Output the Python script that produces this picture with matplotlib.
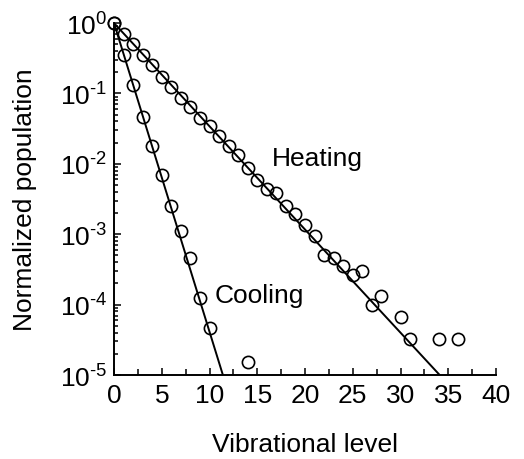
import math
import matplotlib
matplotlib.use("Agg")
import matplotlib.pyplot as plt
from matplotlib.ticker import FixedLocator, FuncFormatter, LogLocator, NullFormatter

plt.rcParams['font.family'] = ['Liberation Sans', 'DejaVu Sans']
plt.rcParams['mathtext.fontset'] = 'custom'
plt.rcParams['mathtext.rm'] = 'Liberation Sans'

# data
heating_level = [0, 1, 2, 3, 4, 5, 6, 7, 8, 9, 10, 11, 12, 13, 14, 15, 16, 17, 18,
                 19, 20, 21, 22, 23, 24, 25, 26, 27, 28, 30, 31, 34, 36]
heating_pop = [1.0, 0.71, 0.50, 0.355, 0.25, 0.174, 0.123, 0.087, 0.065, 0.045,
               0.034, 0.0245, 0.018, 0.0132, 0.0088, 0.0059, 0.0044, 0.0038,
               0.0025, 0.00195, 0.00135, 0.00093, 0.0005, 0.00046, 0.00035,
               0.00026, 0.0003, 0.0001, 0.000132, 0.000066, 0.000032,
               0.000032, 0.000032]
cooling_level = [0, 1, 2, 3, 4, 5, 6, 7, 8, 9, 10, 14]
cooling_pop = [1.0, 0.35, 0.13, 0.047, 0.018, 0.0069, 0.0025, 0.0011, 0.00046,
               0.000123, 0.000046, 0.0000151]

# fitted lines (end points)
heating_fit_x = [0, 34.1]
heating_fit_y = [1.0, 1e-5]
cooling_fit_x = [0, 11.4]
cooling_fit_y = [1.0, 1e-5]

fig = plt.figure(figsize=(5.24, 4.6), dpi=100)
ax = fig.add_axes([0.2176, 0.1826, 0.729, 0.765])

ax.plot(heating_fit_x, heating_fit_y, color='black', lw=1.4)
ax.plot(cooling_fit_x, cooling_fit_y, color='black', lw=1.4)
ax.plot(heating_level, heating_pop, 'o', mfc='none', mec='black', ms=8.8, mew=1.2, clip_on=False)
ax.plot(cooling_level, cooling_pop, 'o', mfc='none', mec='black', ms=8.8, mew=1.2, clip_on=False)

ax.set_yscale('log')
ax.set_xlim(0, 40)
ax.set_ylim(1e-5, 1)

ax.spines['top'].set_visible(False)
ax.spines['right'].set_visible(False)
for s in ['left', 'bottom']:
    ax.spines[s].set_linewidth(1.4)

ax.xaxis.set_major_locator(FixedLocator(range(0, 41, 5)))
ax.xaxis.set_minor_locator(FixedLocator([2.5 + 5 * i for i in range(8)]))
ax.yaxis.set_major_locator(LogLocator(base=10, numticks=10))
ax.yaxis.set_minor_locator(LogLocator(base=10, subs=range(2, 10), numticks=10))
ax.yaxis.set_minor_formatter(NullFormatter())
ax.yaxis.set_major_formatter(FuncFormatter(
    lambda v, p: r'$\mathregular{10^{\text{%d}}}$' % round(math.log10(v))))

ax.tick_params(axis='both', which='both', direction='in', width=1.1, labelsize=19)
ax.tick_params(axis='x', which='major', length=5, pad=6)
ax.tick_params(axis='x', which='minor', length=4)
ax.tick_params(axis='y', which='major', length=5, pad=5)
ax.tick_params(axis='y', which='minor', length=3)

ax.text(16.5, 0.012, 'Heating', fontsize=19, va='center')
ax.text(10.5, 0.000135, 'Cooling', fontsize=19, va='center')

ax.set_xlabel('Vibrational level', fontsize=19, labelpad=18)
ax.set_ylabel('Normalized population', fontsize=19, labelpad=16)

fig.savefig('out.png', dpi=100)
